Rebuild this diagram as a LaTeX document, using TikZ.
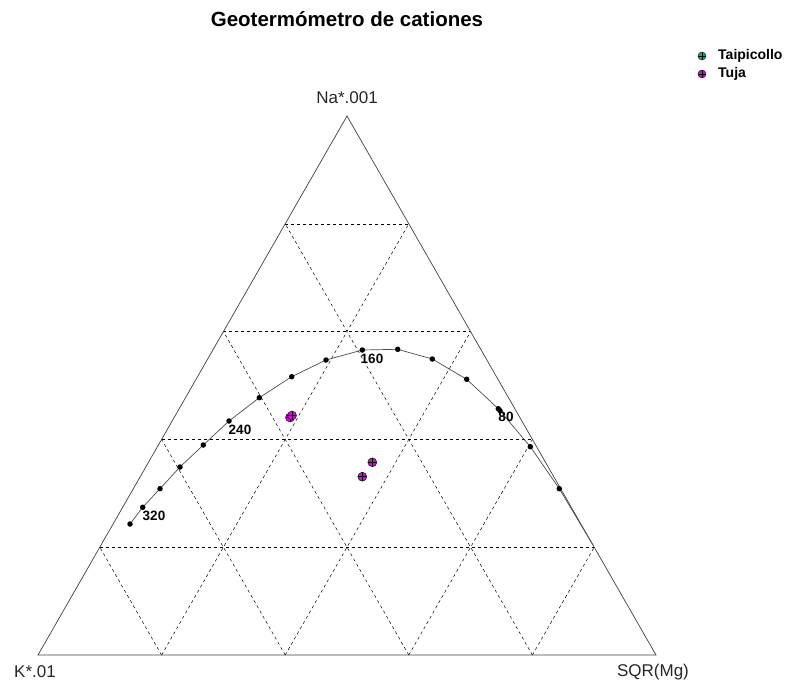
\documentclass[tikz,border=0pt]{standalone}
\usepackage{fontspec}
\setmainfont{Liberation Sans}
\usetikzlibrary{calc}

\definecolor{tuja}{RGB}{225,0,225}
\definecolor{taipi}{RGB}{0,185,90}

\tikzset{
  eje/.style={draw=black!75, line width=0.7pt},
  rejilla/.style={draw=black, dash pattern=on 3pt off 3pt, line width=0.5pt},
  curva/.style={draw=black!70, line width=0.7pt},
  punto/.style={circle, fill=black, inner sep=0pt, minimum size=5.5pt},
  muestra/.style={circle, draw=black, fill=#1, line width=0.4pt, inner sep=0pt, minimum size=9pt,
    path picture={\draw[line width=0.5pt]
      (path picture bounding box.north) -- (path picture bounding box.south)
      (path picture bounding box.west) -- (path picture bounding box.east);}},
  temp/.style={font=\fontsize{13.5}{15}\selectfont\bfseries, inner sep=0pt},
  vertice/.style={font=\fontsize{17}{19}\selectfont, text=black!85, inner sep=0pt},
  leyenda/.style={font=\fontsize{14}{16}\selectfont\bfseries, inner sep=0pt, anchor=west},
}

\begin{document}
\begin{tikzpicture}[x=1pt, y=-1pt]

  \useasboundingbox (0,0) rectangle (806,688);

  % vertices del triangulo
  \coordinate (K)  at (38,655);
  \coordinate (Mg) at (656,655);
  \coordinate (Na) at (347,116);

  \node[font=\fontsize{20.5}{23}\selectfont\bfseries, inner sep=0pt] (titulo) at (347,19)
    {Geotermómetro de cationes};

  \node[vertice] (lNa) at (347,98)  {Na*.001};
  \node[vertice] (lK)  at (35,672)  {K*.01};
  \node[vertice] (lMg) at (653,672) {SQR(Mg)};

  % rejilla
  \foreach \k in {1,...,4}{
    \draw[rejilla] ($(K)!\k/5!(Na)$) -- ($(Mg)!\k/5!(Na)$);
    \draw[rejilla] ($(K)!\k/5!(Mg)$) -- ($(Na)!\k/5!(Mg)$);
    \draw[rejilla] ($(Mg)!\k/5!(K)$) -- ($(Na)!\k/5!(K)$);
  }

  \draw[eje] (K) -- (Mg) -- (Na) -- cycle;

  % curva de equilibrio
  \draw[curva] plot coordinates {(130,524) (142.7,507.3) (160,488.7) (180,467)
    (203.3,445) (229,421) (259.3,397.7) (291.7,376.7) (326,360) (362.3,350)
    (397.7,349.3) (432.3,359) (466.7,379.3) (498.3,408.7) (500,410.7)
    (530.3,446.7) (559.3,488.7) (593,545)};

  \foreach \p [count=\i] in {(130,524), (142.7,507.3), (160,488.7), (180,467),
    (203.3,445), (229,421), (259.3,397.7), (291.7,376.7), (326,360), (362.3,350),
    (397.7,349.3), (432.3,359), (466.7,379.3), (498.3,408.7), (500,410.7),
    (530.3,446.7), (559.3,488.7)}
    \node[punto] (t\i) at \p {};

  \node[temp] (l320) at (154,516) {320};
  \node[temp] (l240) at (240,430) {240};
  \node[temp] (l160) at (372,359) {160};
  \node[temp] (l80)  at (506,417) {80};

  % muestras
  \node[muestra=tuja] (m1) at (290,417.5) {};
  \node[muestra=tuja] (m2) at (292,415.5) {};
  \node[muestra=tuja] (m3) at (372.3,462.3) {};
  \node[muestra=tuja] (m4) at (362.3,476.7) {};

  % leyenda
  \node[muestra=taipi, minimum size=8pt] (ley1) at (702,56) {};
  \node[muestra=tuja, minimum size=8pt]  (ley2) at (702,74) {};
  \node[leyenda] (tley1) at (718,56) {Taipicollo};
  \node[leyenda] (tley2) at (718,74) {Tuja};

\end{tikzpicture}
\end{document}
